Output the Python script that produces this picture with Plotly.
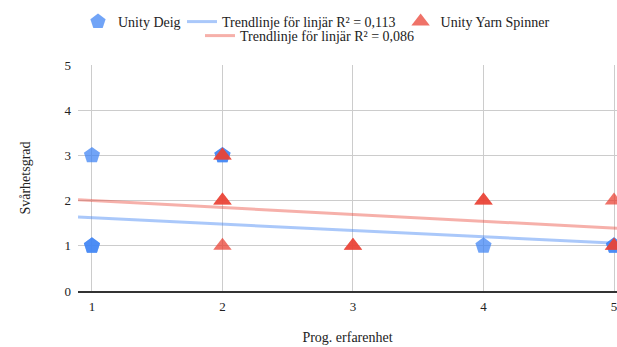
import plotly.graph_objects as go

# Data
deig_x = [1, 1, 1, 2, 2, 4, 5, 5]
deig_y = [3, 1, 1, 3, 3, 1, 1, 1]
yarn_x = [2, 2, 2, 2, 2, 3, 3, 4, 4, 5, 5, 5]
yarn_y = [3, 3, 2, 2, 1, 1, 1, 2, 2, 2, 1, 1]
# trendline values read at x=1 and x=5
trend_x = [1, 5]
trend_deig = [1.62, 1.06]
trend_yarn = [2.00, 1.39]
x_ticks = [1, 2, 3, 4, 5]
y_ticks = [0, 1, 2, 3, 4, 5]

XR = [0.893, 5.023]

def extend(xs, ys, rng):
    s = (ys[1] - ys[0]) / (xs[1] - xs[0])
    return [ys[0] + s * (r - xs[0]) for r in rng]

FONT = "Liberation Serif"
BLUE = "#4285F4"
RED = "#EA4335"
TXT = "#222222"

fig = go.Figure()
fig.add_trace(go.Scatter(
    x=deig_x, y=deig_y, mode="markers", name="Unity Deig",
    marker=dict(symbol="pentagon", size=17, color=BLUE, opacity=0.75,
                line=dict(width=0)),
    legend="legend"))
fig.add_trace(go.Scatter(
    x=XR, y=extend(trend_x, trend_deig, XR), mode="lines",
    name="Trendlinje för linjär R² = 0,113",
    line=dict(color="rgba(66,133,244,0.45)", width=3),
    legend="legend3"))
fig.add_trace(go.Scatter(
    x=yarn_x, y=yarn_y, mode="markers", name="Unity Yarn Spinner",
    marker=dict(symbol="triangle-up", size=16, color=RED, opacity=0.75,
                line=dict(width=0)),
    legend="legend3"))
fig.add_trace(go.Scatter(
    x=XR, y=extend(trend_x, trend_yarn, XR), mode="lines",
    name="Trendlinje för linjär R² = 0,086",
    line=dict(color="rgba(234,67,53,0.42)", width=3),
    legend="legend2"))

def leg(x, y):
    return dict(orientation="h", xref="container", yref="container",
                x=x / 617, y=1 - y / 347, xanchor="left", yanchor="top",
                font=dict(family=FONT, size=14, color=TXT),
                bgcolor="rgba(0,0,0,0)", itemclick=False, itemdoubleclick=False)

fig.update_layout(
    width=617, height=347,
    margin=dict(l=78, r=0, t=65, b=56),
    plot_bgcolor="white", paper_bgcolor="white",
    font=dict(family=FONT, size=14, color=TXT),
    showlegend=True,
    legend=leg(78, 6),
    legend3=leg(182, 6),
    legend2=leg(200, 20),
    xaxis=dict(range=XR, tickvals=x_ticks, showgrid=True,
               gridcolor="#cccccc", gridwidth=1, zeroline=False,
               showline=True, linecolor="#333333", linewidth=1.5,
               ticks="", ticklabelstandoff=3, ticklabeloverflow="allow",
               tickfont=dict(family=FONT, size=13, color=TXT),
               title=dict(text="Prog. erfarenhet", standoff=19,
                          font=dict(family=FONT, size=14, color=TXT))),
    yaxis=dict(range=[0, 5], tickvals=y_ticks, showgrid=True,
               gridcolor="#cccccc", gridwidth=1, zeroline=False,
               showline=False, ticks="", ticklabelstandoff=6,
               tickfont=dict(family=FONT, size=13, color=TXT),
               title=dict(text="Svårhetsgrad", standoff=30,
                          font=dict(family=FONT, size=14, color=TXT))),
)

fig.write_html("out.html")
